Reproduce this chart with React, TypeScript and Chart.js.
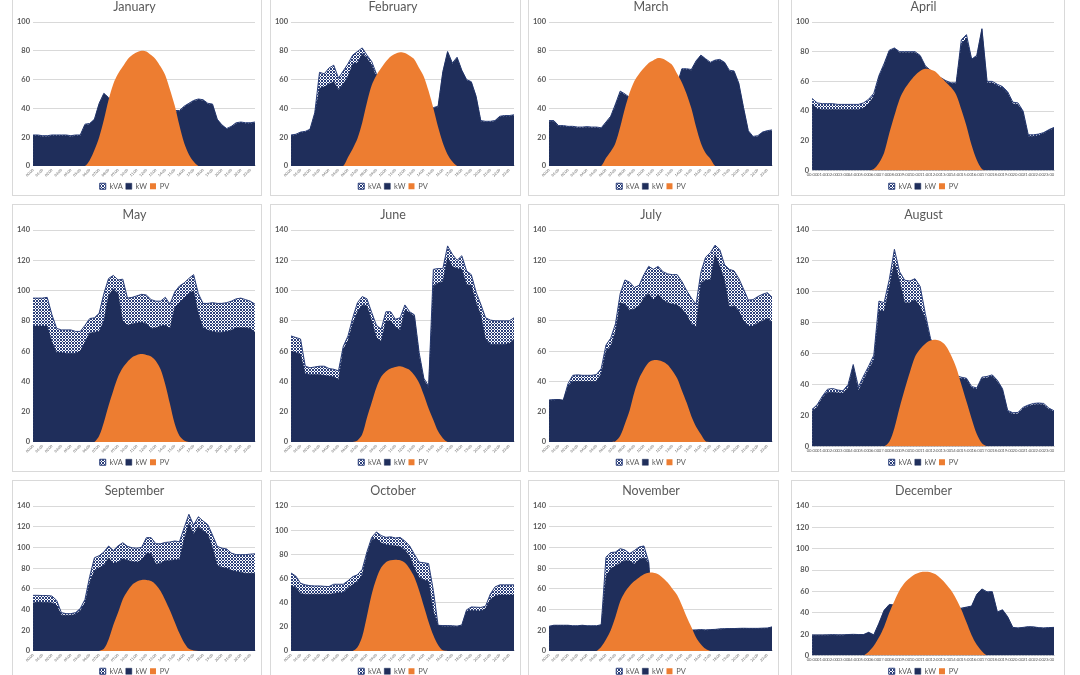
import React, { useEffect, useRef } from 'react';
import Chart from 'chart.js/auto';

// half-hourly time categories
const hours = [
  '00:00', '00:30', '01:00', '01:30', '02:00', '02:30', '03:00', '03:30', '04:00', '04:30', '05:00', '05:30',
  '06:00', '06:30', '07:00', '07:30', '08:00', '08:30', '09:00', '09:30', '10:00', '10:30', '11:00', '11:30',
  '12:00', '12:30', '13:00', '13:30', '14:00', '14:30', '15:00', '15:30', '16:00', '16:30', '17:00', '17:30',
  '18:00', '18:30', '19:00', '19:30', '20:00', '20:30', '21:00', '21:30', '22:00', '22:30', '23:00', '23:30',
];

const janKW = [21, 21, 20.5, 20.5, 21, 21, 21, 21, 20.5, 21, 21, 28.5, 29, 32, 43, 50, 47, 45, 44, 43, 42, 41, 40, 40, 39, 39, 38, 38, 38, 38, 38, 38, 41, 43, 45, 46, 45.5, 43, 42.5, 32, 28, 25.5, 27, 29.5, 30, 29.5, 29.5, 30];
const janKVA = [21.5, 21.5, 21, 21, 21.5, 21.5, 21.5, 21.5, 21, 21.5, 21.5, 29, 29.5, 32.5, 43.5, 50.5, 47.5, 45.5, 44.5, 43.5, 42.5, 41.5, 40.5, 40.5, 39.5, 39.5, 38.5, 38.5, 38.5, 38.5, 38.5, 38.5, 41.5, 43.5, 45.5, 46.5, 46, 43.5, 43, 32.5, 28.5, 26, 27.5, 30, 30.5, 30, 30, 30.5];
const janPV = [0, 0, 0, 0, 0, 0, 0, 0, 0, 0, 0, 0, 4, 11, 20, 32, 46, 57, 64, 69, 74, 77, 79, 80, 79.5, 77, 74, 69, 63, 53, 42, 28, 16, 8, 3, 0, 0, 0, 0, 0, 0, 0, 0, 0, 0, 0, 0, 0];

const febKW = [21, 21.5, 23, 23.5, 25, 36, 54, 55, 57, 58.5, 53, 57, 62, 71, 71.5, 78, 75, 70, 62, 58, 54, 50, 48, 46, 45, 44, 43, 42, 41, 40.5, 40, 41, 65, 79, 71, 75, 66, 59.5, 58, 48, 31, 30.5, 30.5, 31, 34, 34.5, 34.5, 35];
const febKVA = [21.5, 22, 23.5, 24, 25.5, 37, 65, 64, 68, 70, 61, 66, 71, 77, 79.5, 82, 77, 72.5, 64, 59, 55, 51, 49, 47, 46, 45, 44, 43, 42, 41.5, 40.5, 41.5, 65.5, 79.5, 71.5, 75.5, 66.5, 60, 58.5, 48.5, 31.5, 31, 31, 31.5, 34.5, 35, 35, 35.5];
const febPV = [0, 0, 0, 0, 0, 0, 0, 0, 0, 0, 0, 0, 6, 12, 19, 30, 44, 56, 63, 68, 72.5, 76, 78, 79, 78.5, 76.5, 74, 68, 62, 52, 40, 27, 16, 8, 3, 0, 0, 0, 0, 0, 0, 0, 0, 0, 0, 0, 0, 0];

const marKW = [31, 31, 27.5, 27.5, 27, 27, 26.5, 26.5, 26.8, 26.5, 26.5, 26, 30, 34, 42, 51, 49.5, 47, 46, 45, 44, 44, 45, 46, 48, 50, 53, 56, 67, 67, 66.5, 72.5, 76.5, 74, 71.5, 73, 73.5, 71.5, 66, 65.5, 57, 40, 24, 20, 20.5, 23, 24, 24.5];
const marKVA = [31.5, 31.5, 28, 28, 27.5, 27.5, 27, 27, 27.3, 27, 27, 26.5, 30.5, 34.5, 43, 52, 50, 47.5, 46.5, 45.5, 44.5, 44.5, 45.5, 46.5, 48.5, 50.5, 53.5, 56.5, 67.5, 67.5, 67, 73, 77, 74.5, 72, 73.5, 74, 72, 66.5, 66, 57.5, 40.5, 24.5, 20.5, 21, 23.5, 24.5, 25];
const marPV = [0, 0, 0, 0, 0, 0, 0, 0, 0, 0, 0, 0, 5.5, 10, 16, 27, 40, 51, 59, 64, 68, 71.5, 73.5, 75, 74.5, 72.5, 70, 64, 58, 50, 40, 27, 16, 9, 5, 0, 0, 0, 0, 0, 0, 0, 0, 0, 0, 0, 0, 0];

const aprKW = [45, 41.5, 41, 41, 41, 41, 41, 41, 41, 41, 42, 45, 50, 63, 71, 80.5, 82, 79.5, 79.5, 79.5, 79.5, 77, 70, 67, 64, 62, 60, 58.5, 58.5, 85, 89, 74.5, 77, 95, 59, 59, 57, 55.5, 52, 45, 44.5, 39, 23, 23, 23.5, 25, 27, 28.5];
const aprKVA = [48.5, 45.5, 45, 45, 45, 44.5, 44.5, 44.5, 44.5, 44.5, 45.5, 48, 52, 64, 72, 81, 82.5, 80, 80, 80, 80, 77.5, 70.5, 67.5, 64.5, 62.5, 60.5, 59, 59, 88, 91.5, 75, 77.5, 95.5, 60, 60, 58, 56.5, 53, 46, 45.5, 40, 24, 24, 24.5, 25.5, 27.5, 29];
const aprPV = [0, 0, 0, 0, 0, 0, 0, 0, 0, 0, 0, 0, 1, 5, 12, 25, 37, 48, 55, 60, 64, 67, 68.5, 68, 66.5, 63, 59.5, 56, 51, 41, 30, 17, 7, 1, 0, 0, 0, 0, 0, 0, 0, 0, 0, 0, 0, 0, 0, 0];

const mayKW = [76.5, 76.5, 76.5, 76.5, 66, 59, 59, 58.5, 58.5, 58.5, 60, 66, 72, 72.5, 73, 80, 97, 101, 98, 80, 77, 78, 78.5, 79, 78, 75, 75.5, 76.5, 77, 75, 89, 92, 95, 98, 100, 85, 75.5, 74, 73, 72.5, 72.5, 73, 74, 75.5, 75.5, 75.5, 75, 72.5];
const mayKVA = [95, 95, 95, 95.5, 84, 75, 74, 74, 74, 73, 73, 77, 81.5, 82, 85, 98, 108, 110, 107, 107.5, 95, 95.5, 96.5, 97.5, 97, 94, 93, 93, 95.5, 91, 99, 103, 105, 108, 110.5, 98, 91.5, 91.5, 92, 91.5, 91.5, 92, 93, 94.5, 95, 94, 93, 91];
const mayPV = [0, 0, 0, 0, 0, 0, 0, 0, 0, 0, 0, 0, 0, 0, 4, 13, 24, 34, 43, 49, 53, 56, 57.5, 58, 57.5, 56.5, 53.5, 48, 38, 25, 12, 4, 1, 0, 0, 0, 0, 0, 0, 0, 0, 0, 0, 0, 0, 0, 0, 0];

const junKW = [60, 59, 58, 45, 44.5, 44.5, 44.5, 44, 43.5, 43, 41, 61, 67, 78, 86, 90.5, 90, 80, 69, 66.5, 80, 80, 76, 74, 87, 85.5, 83, 57, 41, 36, 103, 105, 106, 122, 116, 114.5, 114, 104, 103.5, 92, 84, 68, 64.5, 64.5, 64.5, 64.5, 65, 68];
const junKVA = [70, 69, 68, 50, 49, 49.5, 50, 50, 48.5, 48, 47, 63, 70, 82, 92, 96, 94.5, 85.5, 77, 74.5, 86, 86, 81, 82, 90.5, 86, 84, 59, 42, 37, 114, 114.5, 114.5, 129.5, 124, 120, 123, 113, 110.5, 99, 91, 82, 80.5, 80, 80, 80, 80, 82];
const junPV = [0, 0, 0, 0, 0, 0, 0, 0, 0, 0, 0, 0, 0, 0, 1, 5, 16, 26, 36, 43, 46.5, 48.5, 49.5, 50, 49, 47.5, 44, 39, 31, 22, 14.5, 7, 2.5, 0, 0, 0, 0, 0, 0, 0, 0, 0, 0, 0, 0, 0, 0, 0];

const julKW = [27.5, 27.5, 28, 27.5, 37, 40, 40, 40, 40, 40, 40, 45, 60, 63, 73, 92, 91, 87, 88, 90, 95, 98, 94, 97.5, 94, 92, 91, 90.5, 88, 84, 78, 76, 105, 107, 107, 124, 116, 107, 89, 90, 86.5, 80, 76.5, 76.5, 78.5, 80, 81.5, 79];
const julKVA = [27.7, 28, 28, 27.5, 38.5, 44, 44.3, 44, 44, 44, 44.5, 48.5, 64, 68.5, 78, 98, 107, 105.5, 102, 103.5, 110.5, 116, 114, 116, 112.5, 111, 110.5, 110.5, 106, 100, 95, 91, 112, 122, 125, 130, 127, 117, 114, 113, 108, 101, 93.7, 94, 96, 97.5, 98.6, 95.7];
const julPV = [0, 0, 0, 0, 0, 0, 0, 0, 0, 0, 0, 0, 0, 0, 0.5, 4, 12, 21, 33, 42, 48, 52.5, 54, 54, 53, 51, 47, 42, 34, 26, 17, 10, 5, 0.5, 0, 0, 0, 0, 0, 0, 0, 0, 0, 0, 0, 0, 0, 0];

const augKW = [23, 25.5, 31.5, 35, 35, 34.7, 34.5, 38, 52, 36, 43, 50, 56, 88, 87.5, 103, 119, 107, 93, 93, 95, 90.5, 83, 69, 62, 55, 50, 47, 45, 44, 43.3, 38, 37, 44, 44.5, 45.5, 42, 36.5, 22.5, 21, 21.2, 24.5, 26, 27, 27.3, 27, 24, 22.3];
const augKVA = [24, 27, 32.5, 37, 37.5, 36.5, 36, 40, 53, 38.5, 45.5, 52, 59, 94, 93, 108, 127.5, 113, 107.5, 107, 108.5, 103.5, 86, 70, 62.8, 55.8, 50.8, 47.8, 45.8, 44.8, 44.1, 38.8, 37.8, 44.8, 45.3, 46.3, 42.8, 37.3, 23.3, 21.8, 22, 25.3, 26.8, 27.8, 28.1, 27.8, 24.8, 23.1];
const augPV = [0, 0, 0, 0, 0, 0, 0, 0, 0, 0, 0, 0, 0, 0, 0, 3, 12, 25, 37, 48, 58, 63, 66.5, 68.5, 69, 68, 65, 59, 51, 40, 29, 18, 8, 2, 0, 0, 0, 0, 0, 0, 0, 0, 0, 0, 0, 0, 0, 0];

const sepKW = [46.6, 47.2, 47, 47, 46.6, 44, 34.5, 34.5, 34.5, 35.5, 39, 46.6, 66, 77.5, 80.5, 82.5, 90, 84.7, 85.6, 89, 87.5, 86.5, 85.6, 88, 94, 94, 84, 84.7, 87.3, 87.3, 88, 88, 108, 123, 113, 120, 116, 113, 100, 83, 80.5, 80, 78, 76.8, 76, 75, 75, 75];
const sepKVA = [53.7, 53.7, 53.5, 53.5, 53, 48.8, 37, 36, 36, 37, 41, 49.8, 72, 90, 92, 95.5, 101.3, 97, 101.5, 104.5, 101, 99.6, 99.3, 100, 109.4, 109.4, 103.5, 103.5, 104.8, 105.2, 106.2, 105.5, 119, 132, 121.5, 129.6, 125.5, 122, 112, 101, 99.3, 98.5, 94.5, 93, 93, 93, 93.5, 93.8];
const sepPV = [0, 0, 0, 0, 0, 0, 0, 0, 0, 0, 0, 0, 0, 0, 0, 2, 11, 25, 37, 50, 58, 64, 67, 68.5, 68.5, 67.5, 64, 58, 49, 39, 28, 17, 8, 2, 0.5, 0, 0, 0, 0, 0, 0, 0, 0, 0, 0, 0, 0, 0];

const octKW = [54, 52.5, 47.5, 47, 47, 47, 47, 47, 47, 47.5, 48.2, 48.2, 52, 55, 57.5, 63, 80, 92, 93, 89.5, 88, 87.5, 87, 86.5, 83.5, 78.5, 68.7, 61, 59, 57.5, 33, 21, 20.5, 20.5, 20.5, 20.3, 21, 33, 33.5, 33.2, 33.1, 35, 42.5, 45.4, 46.3, 46.3, 46.3, 46.3];
const octKVA = [64.5, 62, 56, 54.7, 54, 53.8, 53.8, 53.5, 53.3, 55.2, 55.2, 55.2, 58, 61.5, 63, 67.5, 82, 94, 98.5, 95.5, 94, 94.5, 93.5, 94, 91, 87, 80, 73.5, 73, 72.3, 50, 21.2, 21, 21, 20.8, 20.5, 21.5, 34, 36.4, 36.2, 36, 37, 47, 53, 54.7, 54.7, 54.7, 54.7];
const octPV = [0, 0, 0, 0, 0, 0, 0, 0, 0, 0, 0, 0, 0, 0, 3, 12, 29, 47, 60, 69, 73.5, 75, 75.5, 75, 73, 68, 61, 50, 37, 24, 13, 5, 0.5, 0, 0, 0, 0, 0, 0, 0, 0, 0, 0, 0, 0, 0, 0, 0];

const novKW = [23.5, 24.5, 24.5, 24.5, 24.5, 24, 24, 24.5, 24, 24, 24, 25, 72, 79.5, 82, 85, 87.3, 87, 84, 88.3, 90, 85, 21, 20.5, 20.5, 20.5, 20.5, 20.5, 20, 20, 19.8, 20, 20.3, 20, 20.3, 20.5, 21, 21.2, 21.3, 21.3, 21.5, 21.6, 21.5, 21.5, 21.5, 21.7, 21.8, 22.9];
const novKVA = [23.8, 24.8, 24.8, 24.8, 24.8, 24.3, 24.3, 24.8, 24.3, 24.3, 24.3, 25.3, 90.6, 95, 95.5, 98.8, 97.5, 94, 97, 100.4, 101.4, 86, 21.3, 20.8, 20.8, 20.8, 20.8, 20.8, 20.3, 20.3, 20.1, 20.3, 20.6, 20.3, 20.6, 20.8, 21.3, 21.5, 21.6, 21.6, 21.8, 21.9, 21.8, 21.8, 21.8, 22, 22.1, 23.2];
const novPV = [0, 0, 0, 0, 0, 0, 0, 0, 0, 0, 0, 4, 11, 20, 33, 48, 57, 63, 67.5, 71, 74, 75.5, 75.5, 74, 70.5, 66, 60, 54, 44, 33, 23, 13, 6.5, 2, 0, 0, 0, 0, 0, 0, 0, 0, 0, 0, 0, 0, 0, 0];

const decKW = [18.9, 18.9, 18.9, 19, 19.2, 19, 19, 19.3, 19.5, 19.3, 19.3, 21.4, 19, 30, 42, 47.5, 47, 46, 45.5, 45, 44.5, 44, 43.5, 43, 43, 43, 43, 43.5, 43.5, 44, 45, 46, 57, 62, 59.3, 59.5, 40.5, 42.5, 36, 26, 25.5, 26, 26.7, 26.5, 25.8, 25.5, 25.8, 26];
const decKVA = [19.2, 19.2, 19.2, 19.3, 19.5, 19.3, 19.3, 19.6, 19.8, 19.6, 19.6, 21.7, 19.3, 30.3, 42.3, 47.8, 47.3, 46.3, 45.8, 45.3, 44.8, 44.3, 43.8, 43.3, 43.3, 43.3, 43.3, 43.8, 43.8, 44.3, 45.3, 46.3, 57.3, 62.3, 59.6, 59.8, 40.8, 42.8, 36.3, 26.3, 25.8, 26.3, 27, 26.8, 26.1, 25.8, 26.1, 26.3];
const decPV = [0, 0, 0, 0, 0, 0, 0, 0, 0, 0, 0, 3.5, 9, 17, 27, 40, 51, 61, 68, 72.5, 76, 78, 78.5, 78, 76, 72, 67, 61, 53, 43, 31, 19, 10, 4, 0, 0, 0, 0, 0, 0, 0, 0, 0, 0, 0, 0, 0, 0];

const monthNames = ['January', 'February', 'March', 'April', 'May', 'June', 'July', 'August', 'September', 'October', 'November', 'December'];
const kvaSeries = [janKVA, febKVA, marKVA, aprKVA, mayKVA, junKVA, julKVA, augKVA, sepKVA, octKVA, novKVA, decKVA];
const kwSeries = [janKW, febKW, marKW, aprKW, mayKW, junKW, julKW, augKW, sepKW, octKW, novKW, decKW];
const pvSeries = [janPV, febPV, marPV, aprPV, mayPV, junPV, julPV, augPV, sepPV, octPV, novPV, decPV];
const yMaxes = [100, 100, 100, 100, 140, 140, 140, 140, 140, 120, 140, 140];

// panel grid (px)
const colX = [12, 270, 528, 791];
const colW = [250, 251, 251, 274];
const rowY = [-4, 204, 480];
const rowH = [200, 268, 201];
const EXTRA = 5; // canvas runs a little past the panel bottom (clipped)

const NAVY = '#1f2e5b';
const ORANGE = '#ed7d31';
const GREY = '#595959';
const FONT = 'Lato, "Open Sans", sans-serif';

function makeCheck(ctx: CanvasRenderingContext2D) {
  const c = document.createElement('canvas');
  c.width = 3;
  c.height = 3;
  const g = c.getContext('2d')!;
  g.fillStyle = '#2b3f7a';
  g.fillRect(0, 0, 3, 3);
  g.fillStyle = '#ffffff';
  g.fillRect(1, 0, 1, 1);
  g.fillRect(0, 1, 1, 1);
  g.fillRect(2, 1, 1, 1);
  g.fillRect(1, 2, 1, 1);
  return ctx.createPattern(c, 'repeat');
}

interface PanelProps {
  index: number;
}

const MonthPanel: React.FC<PanelProps> = ({ index }) => {
  const canvasRef = useRef<HTMLCanvasElement>(null);

  useEffect(() => {
    if (!canvasRef.current) return;
    const ctx = canvasRef.current.getContext('2d');
    if (!ctx) return;
    const flat = index % 4 === 3; // April, August, December: horizontal crowded labels

    const chart = new Chart(ctx, {
      type: 'line',
      data: {
        labels: hours,
        datasets: [
          {
            label: 'kVA',
            data: kvaSeries[index],
            backgroundColor: makeCheck(ctx) as any,
            borderColor: '#2b3f7a',
            borderWidth: 1,
            fill: 'origin',
            pointRadius: 0,
            order: 3,
          },
          {
            label: 'kW',
            data: kwSeries[index],
            backgroundColor: NAVY,
            borderColor: NAVY,
            borderWidth: 0.5,
            fill: 'origin',
            pointRadius: 0,
            order: 2,
          },
          {
            label: 'PV',
            data: pvSeries[index],
            backgroundColor: ORANGE,
            borderColor: ORANGE,
            borderWidth: 0,
            fill: 'origin',
            pointRadius: 0,
            tension: 0.3,
            order: 1,
          },
        ],
      },
      options: {
        animation: false,
        responsive: true,
        maintainAspectRatio: false,
        events: [],
        layout: { padding: { left: 1, right: flat ? 10 : 6, top: 0, bottom: 0 } },
        plugins: {
          title: {
            display: true,
            text: monthNames[index],
            color: GREY,
            font: { family: FONT, size: 12.5, weight: 'normal' },
            padding: { top: 2, bottom: 8 },
          },
          legend: {
            position: 'bottom',
            labels: {
              boxWidth: 6,
              boxHeight: 6,
              padding: 3,
              color: GREY,
              font: { family: FONT, size: 7.5 },
              sort: (a, b) => (a.datasetIndex ?? 0) - (b.datasetIndex ?? 0),
            },
          },
          tooltip: { enabled: false },
        },
        scales: {
          x: {
            grid: { display: false, drawTicks: false },
            border: { color: '#d9d9d9' },
            ticks: {
              autoSkip: false,
              maxRotation: flat ? 0 : 45,
              minRotation: flat ? 0 : 45,
              padding: 2,
              color: GREY,
              font: { family: FONT, size: flat ? 4.2 : 3.6 },
              callback: (_v, i) => (i % 2 === 0 ? hours[i] : null),
            },
          },
          y: {
            min: 0,
            max: yMaxes[index],
            border: { display: false },
            grid: { color: '#d9d9d9', drawTicks: false },
            ticks: {
              stepSize: 20,
              padding: 3,
              color: GREY,
              font: { family: FONT, size: 7.5, weight: 'bold' },
            },
          },
        },
      },
    });

    return () => {
      chart.destroy();
    };
  }, [index]);

  const col = index % 4;
  const row = Math.floor(index / 4);
  return (
    <div
      style={{
        position: 'absolute',
        left: colX[col],
        top: rowY[row],
        width: colW[col],
        height: rowH[row],
        boxSizing: 'border-box',
        border: '1px solid #d9d9d9',
        background: '#ffffff',
        overflow: 'hidden',
      }}
    >
      <div style={{ position: 'relative', width: '100%', height: rowH[row] - 2 + EXTRA }}>
        <canvas ref={canvasRef} />
      </div>
    </div>
  );
};

export default function App() {
  return (
    <div
      style={{
        position: 'fixed',
        left: 0,
        top: 0,
        width: 1080,
        height: 675,
        overflow: 'hidden',
        background: '#ffffff',
      }}
    >
      {monthNames.map((_m, i) => (
        <MonthPanel key={i} index={i} />
      ))}
    </div>
  );
}
